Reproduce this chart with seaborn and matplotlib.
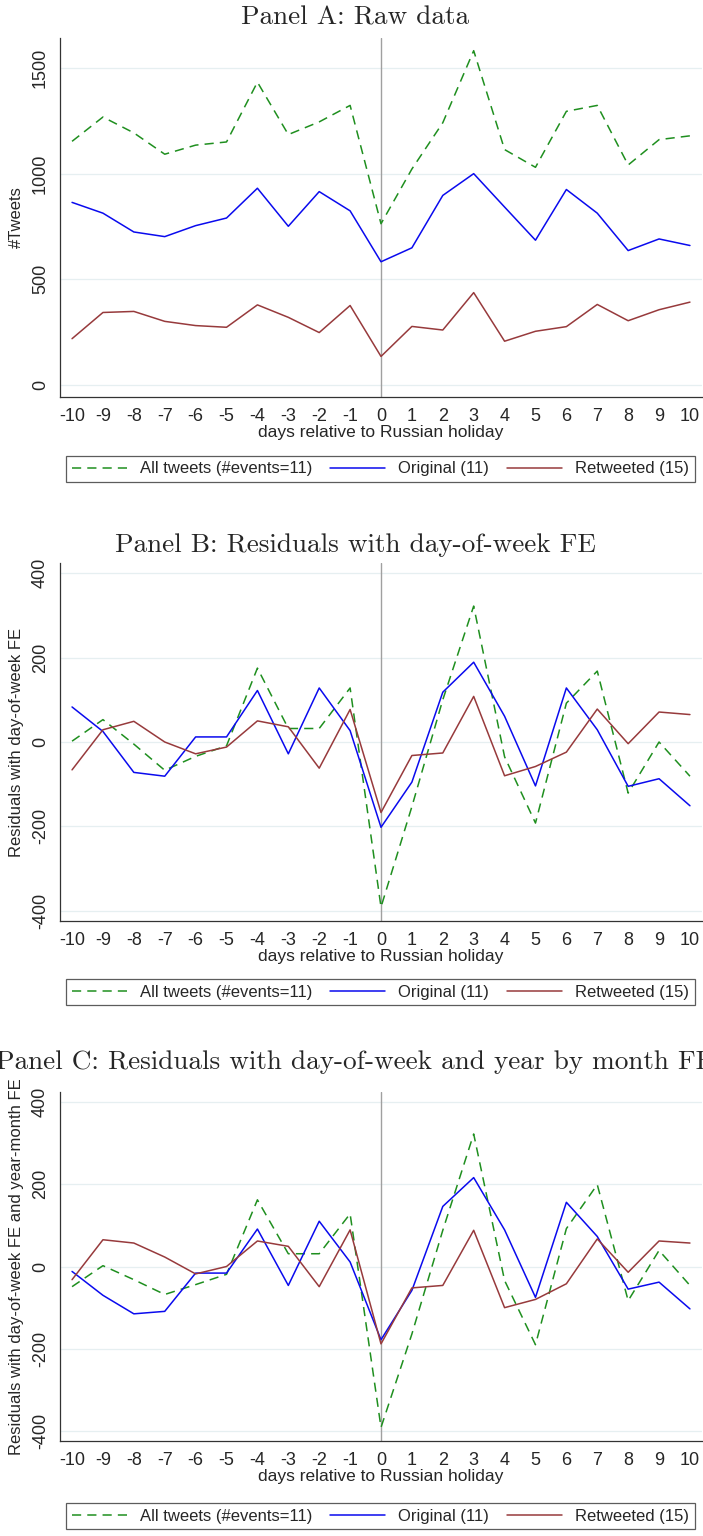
import numpy as np
import pandas as pd
import matplotlib
matplotlib.use("Agg")
import matplotlib.pyplot as plt
import seaborn as sns

# days relative to holiday
days = list(range(-10, 11))

# Panel A: raw data
raw_all = [1153, 1268, 1193, 1092, 1135, 1150, 1433, 1185, 1245, 1323, 763,
           1022, 1241, 1582, 1114, 1030, 1295, 1323, 1041, 1161, 1179]
raw_orig = [864, 813, 724, 702, 754, 790, 931, 751, 915, 824, 583,
            649, 897, 1000, 842, 685, 925, 813, 636, 691, 660]
raw_rt = [219, 343, 348, 301, 281, 273, 379, 320, 248, 376, 135,
          277, 260, 437, 207, 254, 276, 381, 304, 356, 392]

# Panel B: residuals with day-of-week FE
dow_all = [2, 53, -5, -67, -34, -9, 175, 32, 32, 128, -391,
           -153, 100, 322, -35, -192, 92, 168, -121, 0, -81]
dow_orig = [83, 25, -72, -81, 12, 12, 122, -28, 128, 27, -202,
            -95, 118, 189, 61, -104, 128, 29, -105, -87, -151]
dow_rt = [-66, 29, 49, 0, -28, -12, 50, 36, -62, 77, -167,
          -32, -26, 108, -80, -58, -24, 78, -4, 71, 65]

# Panel C: residuals with day-of-week and year-month FE
ym_all = [-49, 2, -32, -68, -44, -19, 162, 31, 31, 128, -391,
          -164, 88, 322, -34, -190, 92, 199, -83, 39, -46]
ym_orig = [-12, -70, -115, -109, -16, -16, 91, -46, 110, 11, -178,
           -58, 146, 216, 89, -75, 156, 73, -55, -38, -103]
ym_rt = [-32, 65, 57, 23, -18, 0, 62, 49, -49, 89, -188,
         -52, -46, 88, -100, -80, -42, 67, -14, 62, 57]

series_names = ["All tweets (#events=11)", "Original (11)", "Retweeted (15)"]
colors = {"All tweets (#events=11)": "#1f8f1f",
          "Original (11)": "#0a0aee",
          "Retweeted (15)": "#973a3c"}
dashes = {"All tweets (#events=11)": (6, 4),
          "Original (11)": "",
          "Retweeted (15)": ""}

panels = [
    ("Panel A: Raw data", "#Tweets", [raw_all, raw_orig, raw_rt],
     [0, 500, 1000, 1500], (-57, 1642), (38, 397), 18, 469),
    ("Panel B: Residuals with day-of-week FE", "Residuals with day-of-week FE",
     [dow_all, dow_orig, dow_rt], [-400, -200, 0, 200, 400], (-424, 424),
     (563, 921), 545, 992),
    ("Panel C: Residuals with day-of-week and year by month FE",
     "Residuals with day-of-week FE and year-month FE",
     [ym_all, ym_orig, ym_rt], [-400, -200, 0, 200, 400], (-424, 424),
     (1092, 1441), 1062, 1516),
]

sns.set_style("white")
sans = ["Liberation Sans Narrow", "Liberation Sans", "DejaVu Sans"]
plt.rcParams["font.family"] = sans
plt.rcParams["axes.unicode_minus"] = False

W, H = 703, 1536
fig = plt.figure(figsize=(W / 100, H / 100), dpi=100)

for title, ylab, vals, yticks, ylim, (top, bot), ty, ly in panels:
    ax = fig.add_axes([60 / W, 1 - bot / H, 642 / W, (bot - top) / H])
    df = pd.DataFrame({
        "day": days * 3,
        "value": vals[0] + vals[1] + vals[2],
        "series": [s for s in series_names for _ in days],
    })
    sns.lineplot(data=df, x="day", y="value", hue="series", style="series",
                 palette=colors, dashes=dashes, hue_order=series_names,
                 style_order=series_names, linewidth=1.1, ax=ax, legend=True)
    for y in yticks:
        ax.axhline(y, color="#e6eff1", lw=0.9, zorder=0)
    ax.axvline(0, color="#a0a0a0", lw=1.0, zorder=1)
    ax.set_xlim(-10.39, 10.39)
    ax.set_ylim(*ylim)
    ax.set_xticks(days)
    ax.set_yticks(yticks)
    ax.set_yticklabels([str(t) for t in yticks], rotation=90, va="center")
    ax.tick_params(axis="both", direction="out", length=5, width=0.8,
                   labelsize=13, color="#333333", pad=3)
    ax.spines["top"].set_visible(False)
    ax.spines["right"].set_visible(False)
    for s in ["left", "bottom"]:
        ax.spines[s].set_color("#333333")
        ax.spines[s].set_linewidth(0.9)
    ax.set_xlabel("days relative to Russian holiday", fontsize=12.5, labelpad=0)
    ax.set_ylabel(ylab, fontsize=12)
    ax.yaxis.set_label_coords(-36 / 642, 0.5)
    handles, labels = ax.get_legend_handles_labels()
    ax.get_legend().remove()
    fig.text(0.505, 1 - ty / H, title, ha="center", va="center",
             fontsize=19.6, family=["cmr10", "DejaVu Serif"])
    leg = fig.legend(handles, labels, loc="center", ncol=3,
                     bbox_to_anchor=(380.5 / W, 1 - ly / H),
                     fontsize=12, handlelength=3.3, frameon=True, fancybox=False,
                     borderpad=0.35, borderaxespad=0, columnspacing=1.05,
                     handletextpad=0.8)
    leg.get_frame().set_edgecolor("#333333")
    leg.get_frame().set_linewidth(0.9)

fig.savefig("out.png", dpi=100)
